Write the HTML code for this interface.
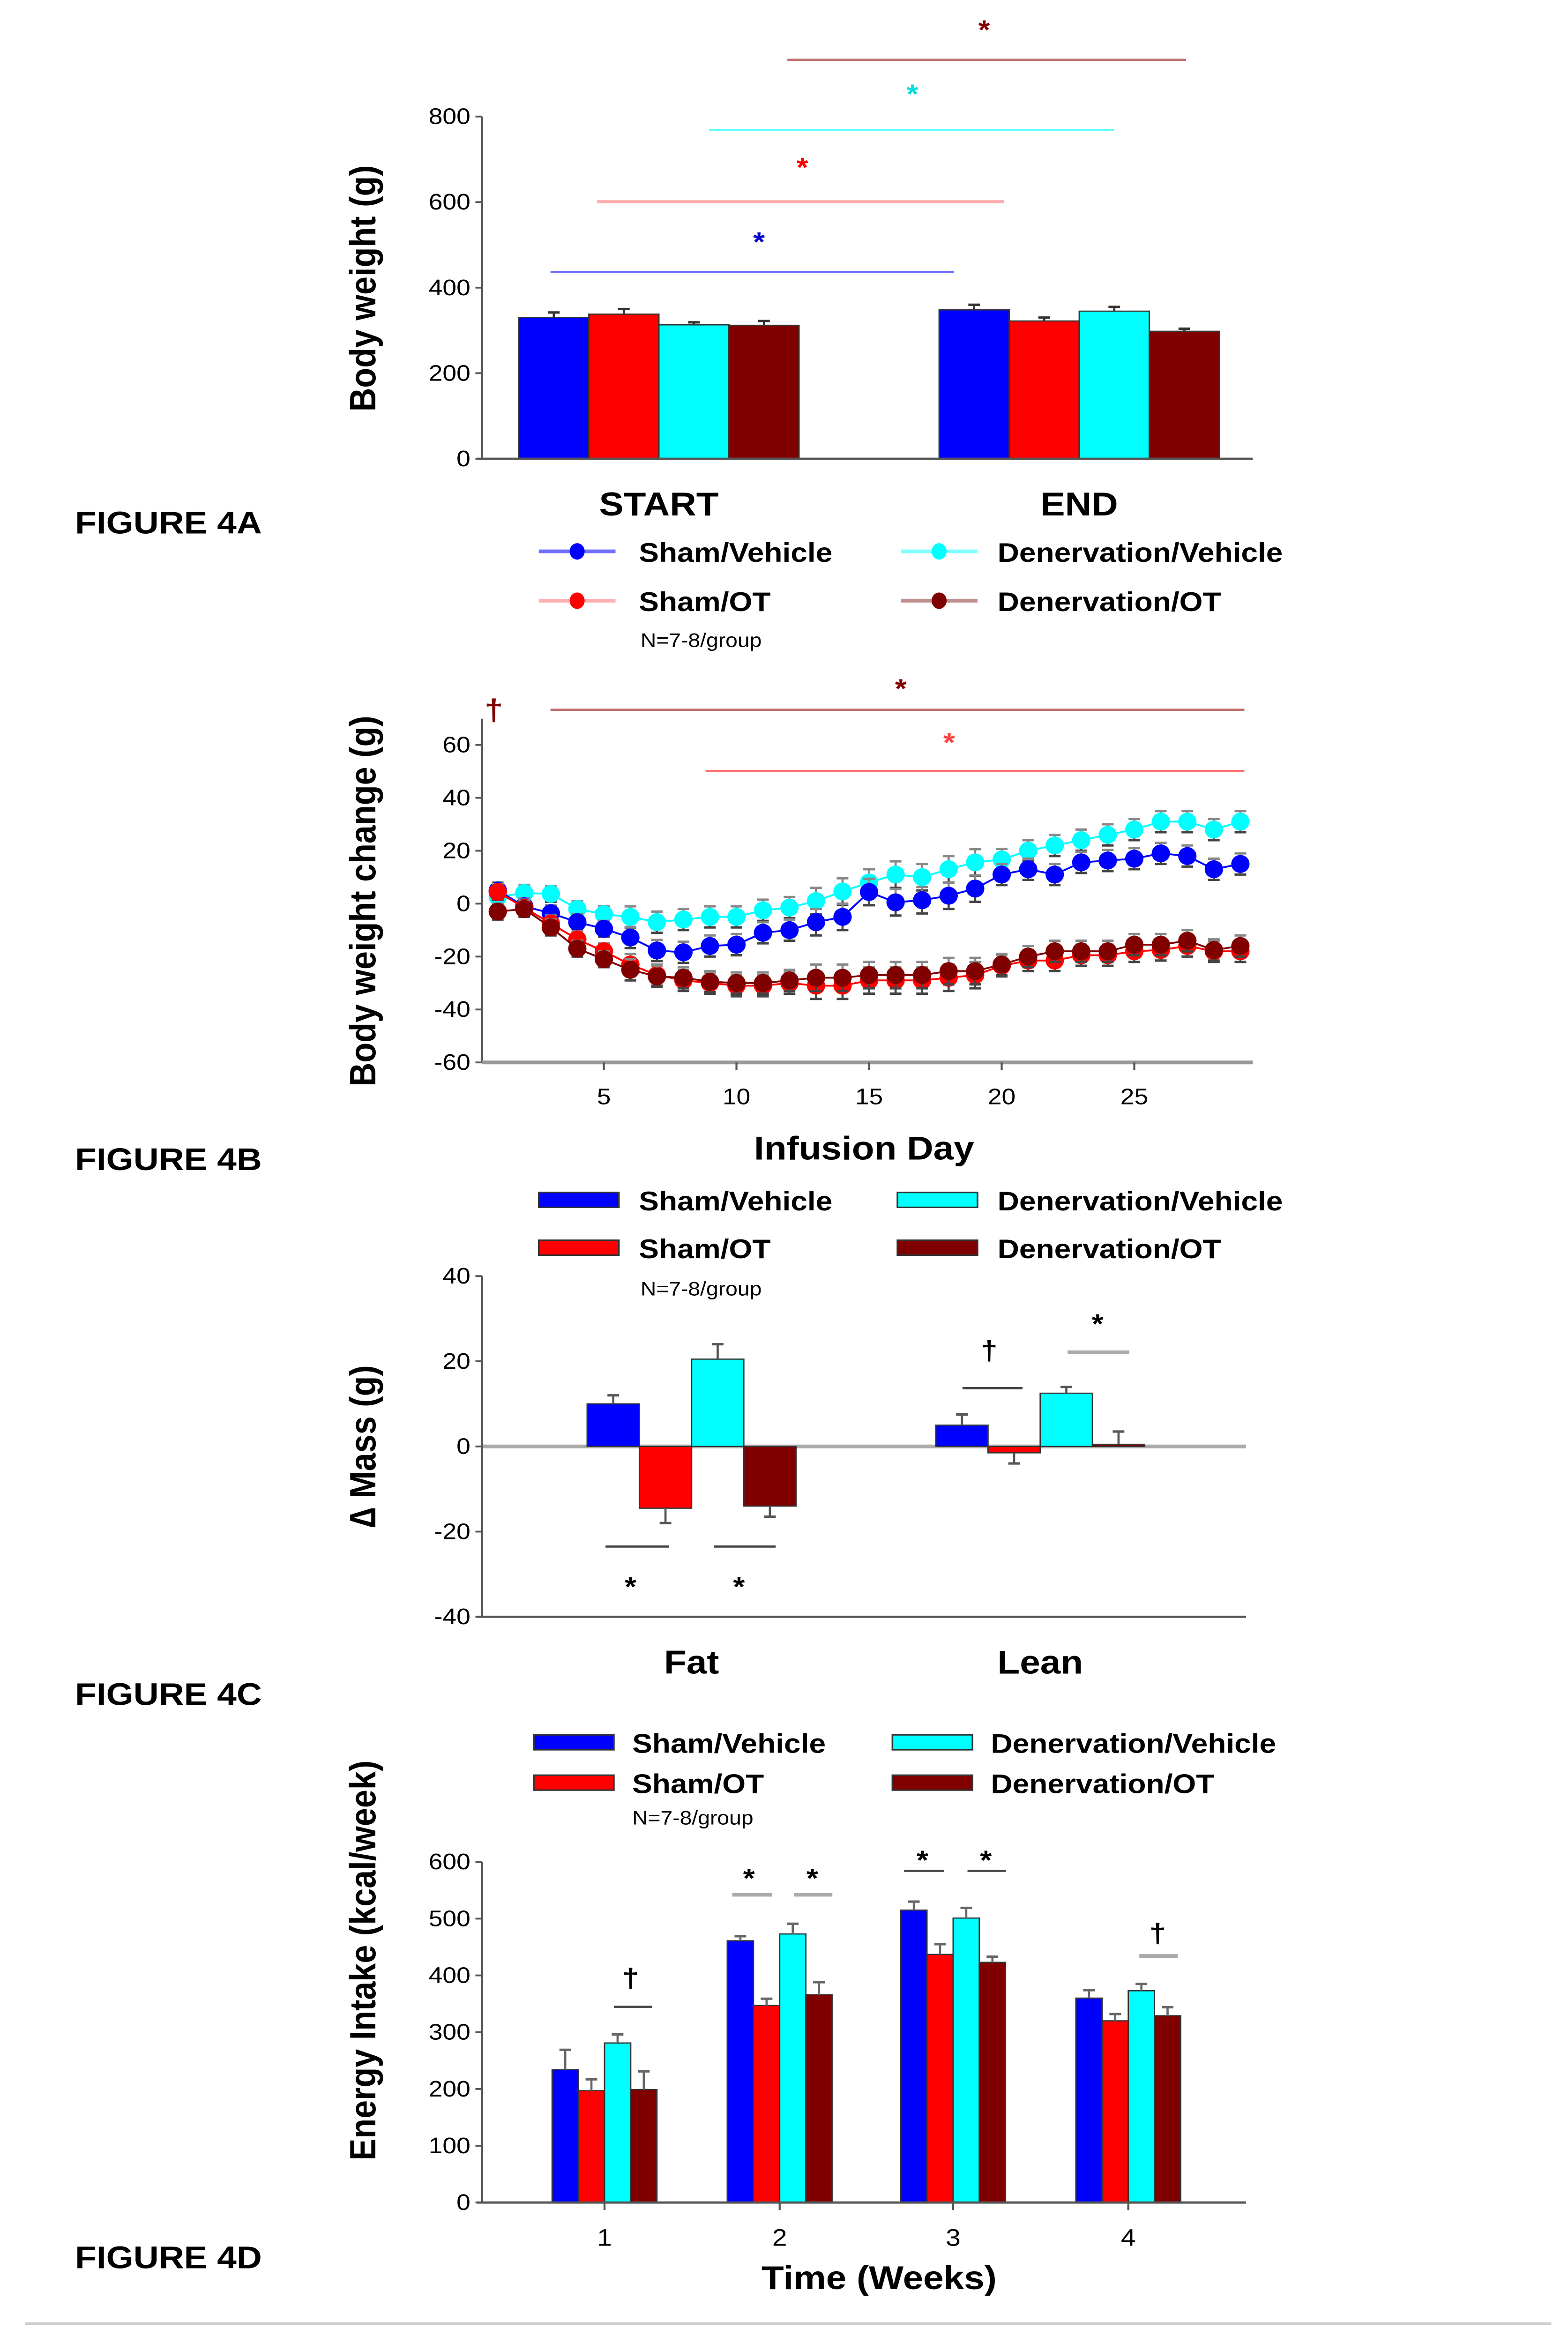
<!DOCTYPE html>
<html><head><meta charset="utf-8">
<style>
html,body{margin:0;padding:0;background:#fff;width:100%;height:100%;overflow:hidden;}
svg{display:block;position:fixed;left:0;top:0;width:100vw;height:100vh;}
text{font-family:"Liberation Sans",Arial,sans-serif;}
</style></head>
<body>
<svg id="fig" viewBox="0 0 940 1568" preserveAspectRatio="none" xmlns="http://www.w3.org/2000/svg">
<rect x="0" y="0" width="940" height="1568" fill="#fff"/>
<g font-weight="bold" font-size="21" fill="#000">
<text x="45" y="357">FIGURE 4A</text>
<text x="45" y="783">FIGURE 4B</text>
<text x="45" y="1141">FIGURE 4C</text>
<text x="45" y="1518">FIGURE 4D</text>
</g>
<line x1="15" y1="1555" x2="930" y2="1555" stroke="#ccc" stroke-width="1.5"/>
</svg>
<script>
// ---- shared
var groupNames = ["Sham/Vehicle","Sham/OT","Denervation/Vehicle","Denervation/OT"];
var colors = ["#0000ff","#ff0000","#00ffff","#800000"];
var lineColors = ["#7070ff","#ffb0b0","#80ffff","#c09090"];

// ---- Panel A data
var aCategories = ["START","END"];
var aValues = [[330,348],[338,322],[313,345],[312,298]];
var aErrors = [[12,12],[12,8],[6,10],[10,6]];
var aTicks = [0,200,400,600,800];

// ---- Panel B data (days 1..29)
var bDays = [1,2,3,4,5,6,7,8,9,10,11,12,13,14,15,16,17,18,19,20,21,22,23,24,25,26,27,28,29];
var bShamVeh = [5,-1,-3.6,-7,-9.5,-12.8,-17.7,-18.4,-16,-15.5,-11,-10,-7,-5,4.4,0.5,1.3,3,5.7,11,13,11,15.6,16.3,17,19,18,13,15];
var bShamOT = [4.4,-1.5,-7.5,-13.5,-18,-23,-27,-29,-30,-31,-31,-30,-31,-31,-29,-29,-29,-28,-27,-23.5,-21.5,-21.5,-19.5,-19.5,-18,-17.5,-16,-18,-18];
var bDenVeh = [2.6,4,3.7,-2,-4,-5,-7,-6,-5,-5,-2.5,-1.5,1,4.6,8,11,10,13,15.6,16.7,20,22,24,26,28,31,31,28,31];
var bDenOT = [-3,-2,-9,-17,-21,-25,-27.5,-28,-29.5,-30,-30,-29,-28,-28,-27,-27,-27,-25.5,-25.5,-23,-20,-18,-18,-18,-15.5,-15.5,-14,-17.5,-16];
var bErr = [3,3,3,3,3,4,4,4,4,4,4,4,5,5,5,5,5,5,5,4,4,4,4,4,4,4,4,4,4];
var bYTicks = [-60,-40,-20,0,20,40,60];
var bXTicks = [5,10,15,20,25];

// ---- Panel C data
var cCategories = ["Fat","Lean"];
var cValues = [[10,5],[-14.5,-1.5],[20.5,12.5],[-14,0.5]];
var cErrors = [[2,2.5],[-3.5,-2.5],[3.5,1.5],[-2.5,3]];
var cTicks = [-40,-20,0,20,40];

// ---- Panel D data
var dCategories = ["1","2","3","4"];
var dValues = [[234,461,515,360],[197,347,437,320],[281,473,501,373],[199,366,423,329]];
var dErrors = [[35,8,15,14],[20,12,18,12],[15,18,18,12],[32,22,10,15]];
var dTicks = [0,100,200,300,400,500,600];

var svg = document.getElementById('fig');
var NS = "http://www.w3.org/2000/svg";
function mk(tag, attrs, parent, txt){
  var e = document.createElementNS(NS, tag);
  for (var k in attrs) e.setAttribute(k, attrs[k]);
  if (txt !== undefined) e.textContent = txt;
  (parent || svg).appendChild(e);
  return e;
}
function lin(y0,y1,p0,p1){ return function(v){ return p0 + (v-y0)/(y1-y0)*(p1-p0); }; }
function slug(s){ return s.toLowerCase().replace(/[^a-z0-9]+/g,'-'); }

function yAxis(g, x, ticks, yf, fs){
  var ax = mk('line',{x1:x,y1:yf(ticks[ticks.length-1]),x2:x,y2:yf(ticks[0]),stroke:'#555','stroke-width':1.3},g);
  
  
  ticks.forEach(function(t){
    var tk = mk('line',{x1:x-4,y1:yf(t),x2:x,y2:yf(t),stroke:'#555','stroke-width':1.2},g);
    
    
    var tl = mk('text',{x:x-7,y:yf(t)+5,'text-anchor':'end','font-size':fs||15,fill:'#000'},g,String(t));
    
    
  });
}
function yTitle(g, x, cy, s, fs){
  var t = mk('text',{x:0,y:0,transform:'translate('+x+','+cy+') rotate(-90)','text-anchor':'middle','font-size':fs||22,'font-weight':'bold',fill:'#000'},g,s);
  
  
}
function sig(g, x1, x2, y, col, sym, sx, sy, w, sc){
  var l = mk('line',{x1:x1,y1:y,x2:x2,y2:y,stroke:col,'stroke-width':w||1.5},g);
  
  
  var t = mk('text',{x:sx,y:sy,'text-anchor':'middle','font-size':18,'font-weight':'bold',fill:sc||col},g,sym);
  
  
}
function legend(g, top, lx, lx2, tx, tx2, rowGap, kind){
  for (var i=0;i<4;i++){
    var col = (i===0||i===1)?0:1;
    var row = (i===0||i===2)?0:1;
    var x = col? lx2 : lx, y = top + row*rowGap, txx = col? tx2: tx;
    var eg = mk('g',{},g);
    
    
    if (kind==='line'){
      var ll = mk('line',{x1:x,y1:y,x2:x+46,y2:y,stroke:lineColors[i],'stroke-width':2.5},eg);
      
      
      var c = mk('ellipse',{cx:x+23,cy:y,rx:4.5,ry:5.5,fill:colors[i]},eg);
      
      
    } else {
      var r = mk('rect',{x:x,y:y-5,width:48,height:10,fill:colors[i],stroke:'#333','stroke-width':1},eg);
      
      
    }
    var t = mk('text',{x:txx,y:y+7,'font-size':18,'font-weight':'bold',fill:'#000'},eg,groupNames[i]);
    
    
  }
}
function nNote(g,x,y){
  var t = mk('text',{x:x,y:y,'font-size':13,fill:'#000'},g,'N=7-8/group');
  
  
}
function errBar(g, x, yTop, yEnd, col){
  var l = mk('line',{x1:x,y1:yTop,x2:x,y2:yEnd,stroke:col||'#555','stroke-width':1.3},g);
  
  
  var c = mk('line',{x1:x-3.5,y1:yEnd,x2:x+3.5,y2:yEnd,stroke:col||'#555','stroke-width':1.6},g);
  
  
}
function bar(g, x, w, v0y, vy, col, name){
  var r = mk('rect',{x:x,y:Math.min(v0y,vy),width:w,height:Math.abs(vy-v0y),fill:col,stroke:'#333','stroke-width':0.8},g);
  
  
}

// ================= Panel A
(function(){
  var g = mk('g',{});
  
  
  var yA = lin(0,800,307,78);
  var groupStart = [311,563], bw = 42;
  aCategories.forEach(function(c,ci){
    for (var s=0;s<4;s++){
      var x = groupStart[ci]+s*bw;
      bar(g,x,bw,yA(0),yA(aValues[s][ci]),colors[s],'bar-'+slug(c)+'-'+slug(groupNames[s]));
      errBar(g,x+bw/2,yA(aValues[s][ci]),yA(aValues[s][ci]+aErrors[s][ci]),'#333');
    }
    var t = mk('text',{x:groupStart[ci]+2*bw,y:345,'text-anchor':'middle','font-size':22,'font-weight':'bold',fill:'#000'},g,c);
    
    
  });
  var xa = mk('line',{x1:286,y1:yA(0),x2:751,y2:yA(0),stroke:'#555','stroke-width':1.5},g);
  
  
  yAxis(g,289,aTicks,yA,15);
  yTitle(g,225,193,'Body weight (g)',22);
  sig(g,330,572,182,'#7070ff','*',455,168,1.5,'#0000cc');
  sig(g,358,602,135,'#ffaaaa','*',481,118,2,'#ff0000');
  sig(g,425,668,87,'#60ffff','*',547,69,1.5,'#00e0e0');
  sig(g,472,711,40,'#c07070','*',590,26,1.5,'#800000');
  legend(g,369,323,540,383,598,33,'line');
  nNote(g,384,433);
})();

// ================= Panel B
(function(){
  var g = mk('g',{});
  
  
  var yB = lin(-60,60,711,498.5);
  var xB = lin(5,25,362,680);
  var top = mk('line',{x1:289,y1:481,x2:289,y2:711,stroke:'#555','stroke-width':1.3},g);
  
  
  yAxis(g,289,bYTicks,yB,15);
  var xa = mk('line',{x1:289,y1:711,x2:751,y2:711,stroke:'#999','stroke-width':2.5},g);
  
  
  bXTicks.forEach(function(t){
    var tk = mk('line',{x1:xB(t),y1:711,x2:xB(t),y2:716,stroke:'#555','stroke-width':1.2},g);
    
    
    var tl = mk('text',{x:xB(t),y:739,'text-anchor':'middle','font-size':15,fill:'#000'},g,String(t));
    
    
  });
  var xt = mk('text',{x:518,y:776,'text-anchor':'middle','font-size':22,'font-weight':'bold',fill:'#000'},g,'Infusion Day');
  
  
  yTitle(g,225,603,'Body weight change (g)',22);
  var series = [bShamVeh,bShamOT,bDenVeh,bDenOT];
  var order = [2,0,1,3];
  var lineCol = ['#0000ff','#ff0000','#00ffff','#800000'];
  order.forEach(function(s){
    var sg = mk('g',{},g);
    
    
    var d = '';
    bDays.forEach(function(day,i){ d += (i?'L':'M')+xB(day).toFixed(2)+','+yB(series[s][i]).toFixed(2); });
    var p = mk('path',{d:d,fill:'none',stroke:lineCol[s],'stroke-width':1.2},sg);
    
    
    bDays.forEach(function(day,i){
      var v = series[s][i], x = xB(day);
      errBar(sg,x,yB(v),yB(v+bErr[i]),'#888');
      errBar(sg,x,yB(v),yB(v-bErr[i]),'#444');
      var c = mk('ellipse',{cx:x,cy:yB(v),rx:5.5,ry:6,fill:colors[s]},sg);
      
      
    });
  });
  var dg = mk('text',{x:296,y:482,'text-anchor':'middle','font-size':20,'font-weight':'bold',fill:'#800000'},g,'†');
  
  
  sig(g,330,746,475,'#c07070','*',540,467,1.5,'#800000');
  sig(g,423,746,516,'#ff7070','*',569,503,1.5,'#ff4040');
  legend(g,803,323,538,383,598,32,'rect');
  nNote(g,384,867);
})();

// ================= Panel C
(function(){
  var g = mk('g',{});
  
  
  var yC = lin(-40,40,1082,854);
  var gs = [352,561], bw = 31.3;
  var z = mk('line',{x1:289,y1:yC(0),x2:747,y2:yC(0),stroke:'#aaa','stroke-width':2.5},g);
  
  
  cCategories.forEach(function(c,ci){
    for (var s=0;s<4;s++){
      var x = gs[ci]+s*bw, v = cValues[s][ci];
      bar(g,x,bw,yC(0),yC(v),colors[s],'bar-'+slug(c)+'-'+slug(groupNames[s]));
      errBar(g,x+bw/2,yC(v),yC(v+cErrors[s][ci]),'#555');
    }
    var t = mk('text',{x:gs[ci]+2*bw,y:1120,'text-anchor':'middle','font-size':22,'font-weight':'bold',fill:'#000'},g,c);
    
    
  });
  var xa = mk('line',{x1:286,y1:1082,x2:747,y2:1082,stroke:'#555','stroke-width':1.5},g);
  
  
  yAxis(g,289,cTicks,yC,15);
  yTitle(g,225,968,'∆ Mass (g)',22);
  sig(g,363,401,1035,'#444','*',378,1068,1.5,'#000');
  sig(g,428,465,1035,'#444','*',443,1068,1.5,'#000');
  sig(g,577,613,929,'#444','†',593,910,1.5,'#000');
  sig(g,640,677,905,'#aaa','*',658,892,2.5,'#000');
})();

// ================= Panel D
(function(){
  var g = mk('g',{});
  
  
  var yD = lin(0,600,1474,1246);
  var gs = [331,436,540,645], bw = 15.7;
  dCategories.forEach(function(c,ci){
    for (var s=0;s<4;s++){
      var x = gs[ci]+s*bw, v = dValues[s][ci];
      bar(g,x,bw,yD(0),yD(v),colors[s],'bar-week-'+c+'-'+slug(groupNames[s]));
      errBar(g,x+bw/2,yD(v),yD(v+dErrors[s][ci]),'#666');
    }
    var cx = gs[ci]+2*bw;
    var tk = mk('line',{x1:cx,y1:1474,x2:cx,y2:1479,stroke:'#555','stroke-width':1.2},g);
    
    
    var t = mk('text',{x:cx,y:1503,'text-anchor':'middle','font-size':16,fill:'#000'},g,c);
    
    
  });
  var xa = mk('line',{x1:286,y1:1474,x2:747,y2:1474,stroke:'#555','stroke-width':1.5},g);
  
  
  yAxis(g,289,dTicks,yD,15);
  yTitle(g,225,1312,'Energy Intake (kcal/week)',22);
  var xt = mk('text',{x:527,y:1532,'text-anchor':'middle','font-size':22,'font-weight':'bold',fill:'#000'},g,'Time (Weeks)');
  
  
  sig(g,368,391,1343,'#444','†',378,1330,1.5,'#000');
  sig(g,439,463,1268,'#aaa','*',449,1263,2.5,'#000');
  sig(g,476,499,1268,'#aaa','*',487,1263,2.5,'#000');
  sig(g,542,566,1252,'#444','*',553,1251,1.5,'#000');
  sig(g,580,603,1252,'#444','*',591,1251,1.5,'#000');
  sig(g,683,706,1309,'#aaa','†',694,1300,2.5,'#000');
  legend(g,1166,320,535,379,594,27,'rect');
  nNote(g,379,1221);
})();
</script>
</body></html>
